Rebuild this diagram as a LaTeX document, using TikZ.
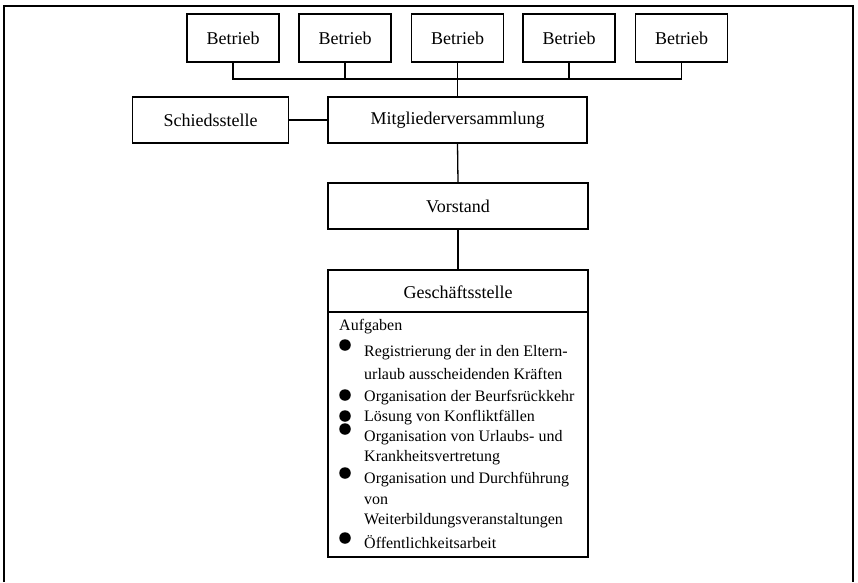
\documentclass[tikz,border=0pt]{standalone}
\usepackage{fontspec}
\setmainfont{Liberation Serif}
\begin{document}
\begin{tikzpicture}[x=1pt,y=-1pt,
  box/.style={draw,line width=1.3pt,rectangle,inner sep=0pt,font=\fontsize{18}{20}\selectfont},
  conn/.style={line width=1.3pt},
  item/.style={anchor=west,inner sep=0pt,font=\fontsize{16}{18}\selectfont},
  dot/.style={circle,fill=black,inner sep=0pt,minimum size=11.5pt}]
\useasboundingbox (0,0) rectangle (858,582);
% outer frame (open at bottom)
\draw[line width=1.2pt] (4,582) -- (4,6) -- (853,6) -- (853,582);
% Betrieb boxes
\node[box,minimum width=92pt,minimum height=48pt] (b1) at (233,38) {Betrieb};
\node[box,minimum width=92pt,minimum height=48pt] (b2) at (345,38) {Betrieb};
\node[box,minimum width=92pt,minimum height=48pt] (b3) at (457.5,38) {Betrieb};
\node[box,minimum width=92pt,minimum height=48pt] (b4) at (569,38) {Betrieb};
\node[box,minimum width=92pt,minimum height=48pt] (b5) at (681.5,38) {Betrieb};
% second row
\node[box,minimum width=156pt,minimum height=46pt] (ss) at (210.5,120) {Schiedsstelle};
\node[box,minimum width=259pt,minimum height=46pt] (mv) at (457.5,120) {Mitgliederversammlung};
% Vorstand
\node[box,minimum width=260pt,minimum height=46pt] (vs) at (458,206) {Vorstand};
% Geschaeftsstelle
\node[box,minimum width=260pt,minimum height=287pt] (gs) at (458,413.5) {};
\node[inner sep=0pt,font=\fontsize{18}{20}\selectfont] (gsh) at (458,292) {Geschäftsstelle};
\coordinate (divL) at (328,312);
\coordinate (divR) at (588,312);
\draw[conn] (divL) -- (divR);
% connectors
\coordinate (bus) at (457.5,79);
\draw[conn] (b1.south) -- (b1.south |- bus) -- (b5.south |- bus) -- (b5.south);
\draw[conn] (b2.south) -- (b2.south |- bus);
\draw[conn] (b4.south) -- (b4.south |- bus);
\draw[conn] (b3.south) -- (mv.north);
\draw[conn] (ss.east) -- (mv.west);
\draw[conn] (mv.south) -- (vs.north);
\draw[conn] (vs.south) -- (gs.north);
% list
\node[item] (t0) at (339,327) {Aufgaben};
\node[item] (t1) at (364,353) {Registrierung der in den Eltern-};
\node[item] (t2) at (364,374) {urlaub ausscheidenden Kräften};
\node[item] (t3) at (364,398) {Organisation der Beurfsrückkehr};
\node[item] (t4) at (364,418) {Lösung von Konfliktfällen};
\node[item] (t5) at (364,438) {Organisation von Urlaubs- und};
\node[item] (t6) at (364,458) {Krankheitsvertretung};
\node[item] (t7) at (364,480) {Organisation und Durchführung};
\node[item] (t8) at (364,501) {von};
\node[item] (t9) at (364,521) {Weiterbildungsveranstaltungen};
\node[item] (t10) at (364,542) {Öffentlichkeitsarbeit};
\node[dot] (d1) at (345,345) {};
\node[dot] (d2) at (345,395) {};
\node[dot] (d3) at (345,416) {};
\node[dot] (d4) at (345,429) {};
\node[dot] (d5) at (345,473) {};
\node[dot] (d6) at (345,538) {};
\end{tikzpicture}
\end{document}
